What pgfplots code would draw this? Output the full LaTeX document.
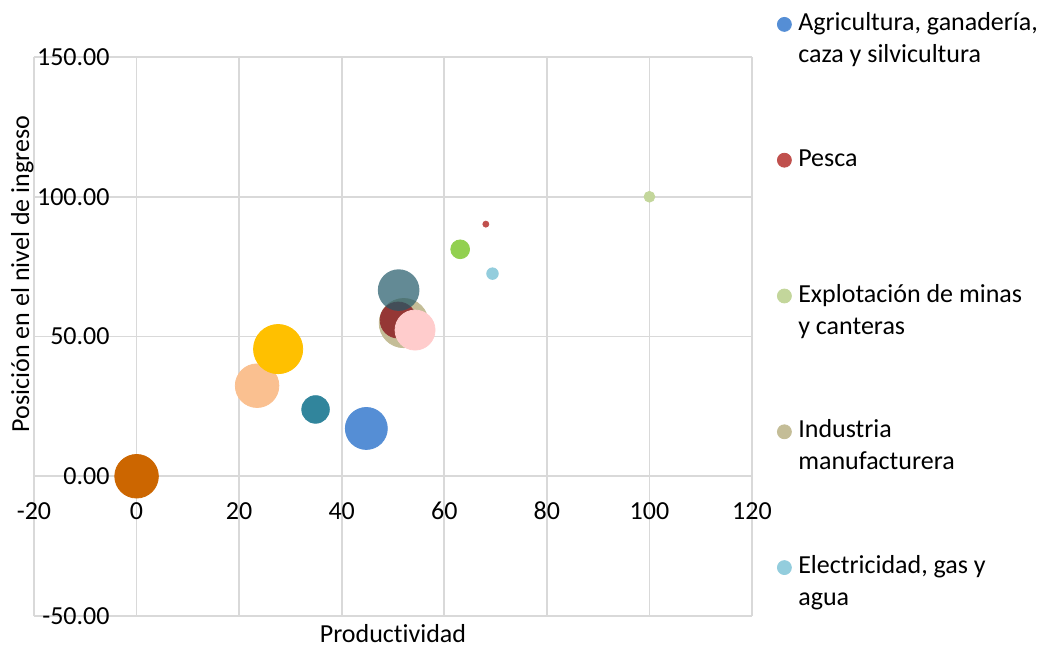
\documentclass[border=0pt]{standalone}
\usepackage{pgfplots}
\pgfplotsset{compat=1.18}
\usepackage{fontspec}
\setmainfont{Carlito}[Ligatures=NoCommon]
\definecolor{gridc}{HTML}{D9D9D9}
\definecolor{cagri}{HTML}{558ED5}
\definecolor{cpesca}{HTML}{C0504D}
\definecolor{cminas}{HTML}{C3D69B}
\definecolor{cind}{HTML}{C4BD97}
\definecolor{celec}{HTML}{93CDDD}
\definecolor{cdred}{HTML}{953735}
\definecolor{cslate}{HTML}{215968}
\definecolor{cpink}{HTML}{FFCCCC}
\definecolor{cgreen}{HTML}{92D050}
\definecolor{cyellow}{HTML}{FFC000}
\definecolor{cpeach}{HTML}{FAC090}
\definecolor{cteal}{HTML}{31859C}
\definecolor{corange}{HTML}{CC6600}
\begin{document}
\fontsize{13}{16}\selectfont
\begin{tikzpicture}[font=\fontsize{13}{16}\selectfont]
\path[use as bounding box] (0,0) rectangle (522pt,-323.5pt);
\begin{axis}[
  at={(17pt,-308pt)}, anchor=south west,
  scale only axis, width=359pt, height=279.5pt,
  xmin=-20, xmax=120, ymin=-50, ymax=150,
  axis lines=middle,
  axis line style={-, draw=gridc, line width=0.9pt},
  hide obscured x ticks=false, hide obscured y ticks=false,
  xtick={-20,0,20,40,60,80,100,120},
  ytick={-50,0,50,100,150},
  xticklabels={-20,0,20,40,60,80,100,120},
  yticklabels={{-50.00},{0.00},{50.00},{100.00},{150.00}},
  major tick length=0pt,
  grid=major, grid style={draw=gridc, line width=0.9pt},
  xticklabel style={anchor=base, inner sep=0pt, yshift=-21.4pt},
  yticklabel style={anchor=east, inner sep=0pt, xshift=-13.3pt},
  xlabel={Productividad},
  ylabel={Posición en el nivel de ingreso},
  every axis x label/.style={at={(axis description cs:0.5,-0.0475)}, anchor=base},
  every axis y label/.style={at={(axis description cs:-0.00696,0.6118)}, anchor=base, rotate=90},
  clip=false,
  legend style={at={(axis description cs:1.0348,1.0716)}, anchor=north west,
    draw=none, fill=none, inner sep=0pt, outer sep=0pt,
    row sep=60.5pt, column sep=3.25pt,
    nodes={inner sep=0pt, outer sep=0pt}},
  legend cell align=left,
  legend image code/.code={\fill[#1] (0,0) circle (3.5pt);},
]
\addplot[only marks, mark=*, color=cagri, mark size=10.5pt, mark options={draw=none}] coordinates {(44.8,17.1)};
\addlegendentry{\smash{\raisebox{-4pt}{\parbox[t]{6cm}{Agricultura, ganadería,\\caza y silvicultura}}}}
\addplot[only marks, mark=*, color=cpesca, mark size=1.5pt, mark options={draw=none}] coordinates {(68.1,90.2)};
\addlegendentry{\smash{\raisebox{-4pt}{\parbox[t]{6cm}{Pesca}}}}
\addplot[only marks, mark=*, color=cminas, mark size=2.7pt, mark options={draw=none}] coordinates {(100,100)};
\addlegendentry{\smash{\raisebox{-4pt}{\parbox[t]{6cm}{Explotación de minas\\y canteras}}}}
\addplot[only marks, mark=*, color=cind, mark size=12.3pt, mark options={draw=none}] coordinates {(52.1,54.8)};
\addlegendentry{\smash{\raisebox{-4pt}{\parbox[t]{6cm}{Industria\\manufacturera}}}}
\addplot[only marks, mark=*, color=celec, mark size=2.9pt, mark options={draw=none}] coordinates {(69.4,72.5)};
\addlegendentry{\smash{\raisebox{-4pt}{\parbox[t]{6cm}{Electricidad, gas y\\agua}}}}
\addplot[forget plot, only marks, mark=*, color=cdred, mark size=9pt, mark options={draw=none}] coordinates {(51.0,55.9)};
\addplot[forget plot, only marks, mark=*, color=cslate, mark size=10.4pt, mark options={draw opacity=0, fill opacity=0.7}] coordinates {(51.1,66.6)};
\addplot[forget plot, only marks, mark=*, color=cpeach, mark size=10.9pt, mark options={draw=none}] coordinates {(23.5,32.4)};
\addplot[forget plot, only marks, mark=*, color=cyellow, mark size=12.3pt, mark options={draw=none}] coordinates {(27.6,45.5)};
\addplot[forget plot, only marks, mark=*, color=cteal, mark size=6.9pt, mark options={draw=none}] coordinates {(34.9,23.9)};
\addplot[forget plot, only marks, mark=*, color=cpink, mark size=10pt, mark options={draw=none}] coordinates {(54.3,52.3)};
\addplot[forget plot, only marks, mark=*, color=cgreen, mark size=4.7pt, mark options={draw=none}] coordinates {(63.1,81.2)};
\addplot[forget plot, only marks, mark=*, color=corange, mark size=10.9pt, mark options={draw=none}] coordinates {(0,0)};
\end{axis}
\end{tikzpicture}
\end{document}
